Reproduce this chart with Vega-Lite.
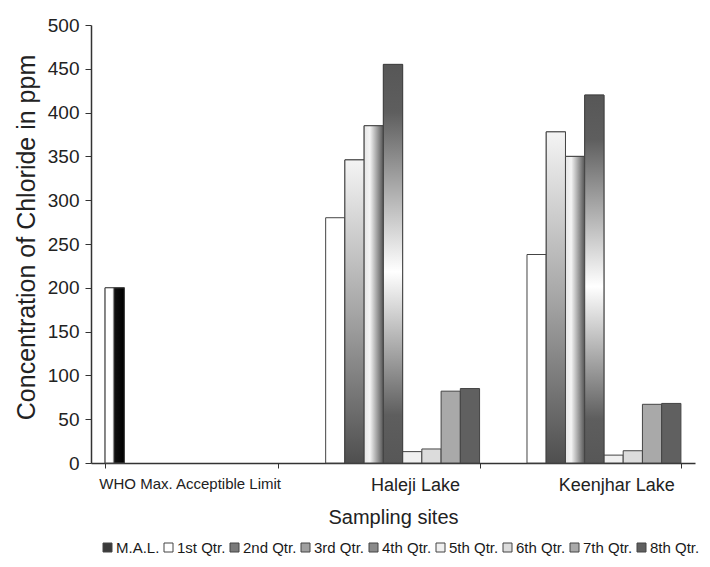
{
  "$schema": "https://vega.github.io/schema/vega-lite/v6.json",
  "width": 604,
  "height": 438,
  "autosize": {"type": "none"},
  "padding": {"left": 91, "top": 25, "right": 15, "bottom": 104},
  "background": "white",
  "config": {
    "font": "Liberation Sans",
    "view": {"stroke": null},
    "axis": {"grid": false, "domainColor": "#333333", "tickColor": "#333333", "labelColor": "#222222", "titleColor": "#222222", "titleFontWeight": "normal", "labelFont": "Liberation Sans", "titleFont": "Liberation Sans"},
    "legend": {"labelFont": "Liberation Sans"}
  },
  "data": {
    "values": [
      {"site": "WHO Max. Acceptible Limit", "series": "M.A.L.", "value": 200},
      {"site": "Haleji Lake", "series": "1st Qtr.", "value": 280},
      {"site": "Haleji Lake", "series": "2nd Qtr.", "value": 346},
      {"site": "Haleji Lake", "series": "3rd Qtr.", "value": 385},
      {"site": "Haleji Lake", "series": "4th Qtr.", "value": 455},
      {"site": "Haleji Lake", "series": "5th Qtr.", "value": 13},
      {"site": "Haleji Lake", "series": "6th Qtr.", "value": 16},
      {"site": "Haleji Lake", "series": "7th Qtr.", "value": 82},
      {"site": "Haleji Lake", "series": "8th Qtr.", "value": 85},
      {"site": "Keenjhar Lake", "series": "1st Qtr.", "value": 238},
      {"site": "Keenjhar Lake", "series": "2nd Qtr.", "value": 378},
      {"site": "Keenjhar Lake", "series": "3rd Qtr.", "value": 350},
      {"site": "Keenjhar Lake", "series": "4th Qtr.", "value": 420},
      {"site": "Keenjhar Lake", "series": "5th Qtr.", "value": 9},
      {"site": "Keenjhar Lake", "series": "6th Qtr.", "value": 14},
      {"site": "Keenjhar Lake", "series": "7th Qtr.", "value": 67},
      {"site": "Keenjhar Lake", "series": "8th Qtr.", "value": 68}
    ]
  },
  "encoding": {
    "x": {
      "field": "site",
      "type": "nominal",
      "sort": ["WHO Max. Acceptible Limit", "Haleji Lake", "Keenjhar Lake"],
      "scale": {"domain": ["WHO Max. Acceptible Limit", "Haleji Lake", "Keenjhar Lake"], "paddingInner": 0.14, "paddingOuter": 0.07},
      "axis": {
        "title": "Sampling sites",
        "titleFontSize": 20,
        "titlePadding": 13,
        "labelAngle": 0,
        "labelLimit": 300,
        "labelFontSize": {"condition": {"test": "datum.value === 'WHO Max. Acceptible Limit'", "value": 15}, "value": 18},
        "labelOffset": {"condition": {"test": "datum.value === 'WHO Max. Acceptible Limit'", "value": -2}, "value": 22},
        "labelPadding": 8,
        "tickSize": 5,
        "tickBand": "extent",
        "domainWidth": 1.5
      }
    },
    "xOffset": {
      "field": "series",
      "type": "nominal",
      "scale": {"domain": ["M.A.L.", "1st Qtr.", "2nd Qtr.", "3rd Qtr.", "4th Qtr.", "5th Qtr.", "6th Qtr.", "7th Qtr.", "8th Qtr."], "paddingInner": 0, "paddingOuter": 0}
    },
    "y": {
      "field": "value",
      "type": "quantitative",
      "scale": {"domain": [0, 500], "nice": false},
      "axis": {
        "title": "Concentration of Chloride in ppm",
        "titleFontSize": 25,
        "titlePadding": 8,
        "titleY": 212,
        "labelFontSize": 19,
        "labelPadding": 6,
        "tickSize": 6,
        "values": [0, 50, 100, 150, 200, 250, 300, 350, 400, 450, 500],
        "domainWidth": 1.5
      }
    }
  },
  "layer": [
    {
      "mark": {"type": "bar", "stroke": "#444444", "strokeWidth": 1},
      "encoding": {
        "fill": {
          "field": "series",
          "type": "nominal",
          "scale": {
            "domain": ["M.A.L.", "1st Qtr.", "2nd Qtr.", "3rd Qtr.", "4th Qtr.", "5th Qtr.", "6th Qtr.", "7th Qtr.", "8th Qtr."],
            "range": ["#3a3a3a", "#ffffff", "#7a7a7a", "#a0a0a0", "#8a8a8a", "#f0f0f0", "#dcdcdc", "#a9a9a9", "#606060"]
          },
          "legend": {
            "title": null,
            "orient": "none",
            "legendX": 9,
            "legendY": 515,
            "direction": "horizontal",
            "gridAlign": "none",
            "symbolType": "square",
            "symbolSize": 81,
            "symbolStrokeColor": "#444444",
            "symbolStrokeWidth": 1,
            "labelFontSize": 15,
            "labelColor": "#1a1a1a",
            "labelOffset": 1,
            "columnPadding": 1
          }
        }
      }
    },
    {
      "transform": [{"filter": "datum.series === 'M.A.L.'"}],
      "mark": {"type": "bar", "stroke": "#444444", "strokeWidth": 1,
        "fill": {"gradient": "linear", "x1": 0, "y1": 0, "x2": 1, "y2": 0, "stops": [{"offset": 0, "color": "#ffffff"}, {"offset": 0.38, "color": "#ffffff"}, {"offset": 0.5, "color": "#111111"}, {"offset": 1, "color": "#000000"}]}}
    },
    {
      "transform": [{"filter": "datum.series === '2nd Qtr.'"}],
      "mark": {"type": "bar", "stroke": "#444444", "strokeWidth": 1,
        "fill": {"gradient": "linear", "x1": 0, "y1": 0, "x2": 0, "y2": 1, "stops": [{"offset": 0, "color": "#f4f4f4"}, {"offset": 0.5, "color": "#a6a6a6"}, {"offset": 1, "color": "#4f4f4f"}]}}
    },
    {
      "transform": [{"filter": "datum.series === '3rd Qtr.'"}],
      "mark": {"type": "bar", "stroke": "#444444", "strokeWidth": 1,
        "fill": {"gradient": "linear", "x1": 0, "y1": 0, "x2": 1, "y2": 0, "stops": [{"offset": 0, "color": "#e6e6e6"}, {"offset": 0.3, "color": "#f4f4f4"}, {"offset": 1, "color": "#555555"}]}}
    },
    {
      "transform": [{"filter": "datum.series === '4th Qtr.'"}],
      "mark": {"type": "bar", "stroke": "#444444", "strokeWidth": 1,
        "fill": {"gradient": "linear", "x1": 0, "y1": 0, "x2": 0, "y2": 1, "stops": [{"offset": 0, "color": "#575757"}, {"offset": 0.12, "color": "#5e5e5e"}, {"offset": 0.52, "color": "#ffffff"}, {"offset": 0.88, "color": "#5e5e5e"}, {"offset": 1, "color": "#575757"}]}}
    }
  ]
}
